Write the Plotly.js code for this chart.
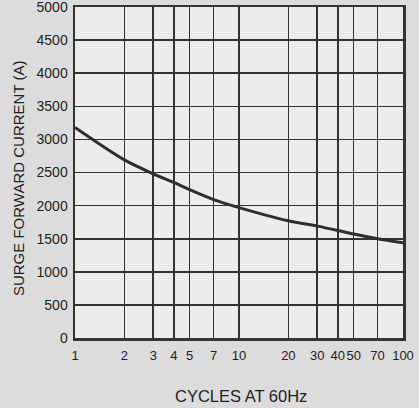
<!DOCTYPE html>
<html><head><meta charset="utf-8">
<script src="https://cdn.plot.ly/plotly-3.0.1.min.js"></script>
<style>html,body{margin:0;padding:0;background:#dcdcdc;}#c{width:419px;height:408px;}</style>
</head><body><div id="c"></div>
<script>
const cycles = [1, 2, 3, 4, 5, 7, 10, 20, 30, 40, 50, 70, 100];
const surgeCurrent = [3180, 2690, 2480, 2350, 2240, 2090, 1970, 1770, 1690, 1625, 1570, 1500, 1440];
const xTickVals = [1, 2, 3, 4, 5, 7, 10, 20, 30, 40, 50, 70, 100];
const xTickText = ['1', '2', '3', '4', '5', '7', '10', '20', '30', '40', '50', '70', '100'];
const yTickVals = [0, 500, 1000, 1500, 2000, 2500, 3000, 3500, 4000, 4500, 5000];

const trace = {
  x: cycles, y: surgeCurrent, type: 'scatter', mode: 'lines',
  line: {color: '#2e2e2e', width: 3, shape: 'spline', smoothing: 0.8},
  hoverinfo: 'skip'
};
const fam = 'Liberation Sans, Arial, sans-serif';
const font = {family: fam, size: 14, color: '#1e1e1e'};
const xfont = {family: fam, size: 13, color: '#1e1e1e'};
const layout = {
  width: 419, height: 408,
  margin: {l: 75, r: 16, t: 7, b: 70},
  paper_bgcolor: '#dcdcdc', plot_bgcolor: '#ececec',
  showlegend: false, font: font,
  xaxis: {
    type: 'log', range: [0, 2], tickvals: xTickVals, ticktext: xTickText,
    tickangle: 0, ticklabeloverflow: 'allow',
    showgrid: true, gridcolor: '#333', gridwidth: 1.6,
    showline: true, linecolor: '#333', linewidth: 2.5, mirror: true,
    ticks: '', zeroline: false, tickfont: xfont, ticklabelstandoff: 4
  },
  yaxis: {
    range: [0, 5000], tickvals: yTickVals, ticklabeloverflow: 'allow',
    showgrid: true, gridcolor: '#333', gridwidth: 1.6,
    showline: true, linecolor: '#333', linewidth: 2.5, mirror: true,
    ticks: '', zeroline: false, tickfont: font, ticklabelstandoff: 2
  },
  annotations: [
    {text: 'CYCLES AT 60Hz', xref: 'paper', yref: 'paper', x: 0.505, y: -0.175,
     xanchor: 'center', yanchor: 'middle', showarrow: false,
     font: {family: fam, size: 16.5, color: '#1e1e1e'}},
    {text: 'SURGE FORWARD CURRENT (A)', xref: 'paper', yref: 'paper', x: -0.174, y: 0.483,
     xanchor: 'center', yanchor: 'middle', showarrow: false, textangle: -90,
     font: {family: fam, size: 15, color: '#1e1e1e'}}
  ]
};
Plotly.newPlot('c', [trace], layout, {staticPlot: true, displayModeBar: false});
</script></body></html>
